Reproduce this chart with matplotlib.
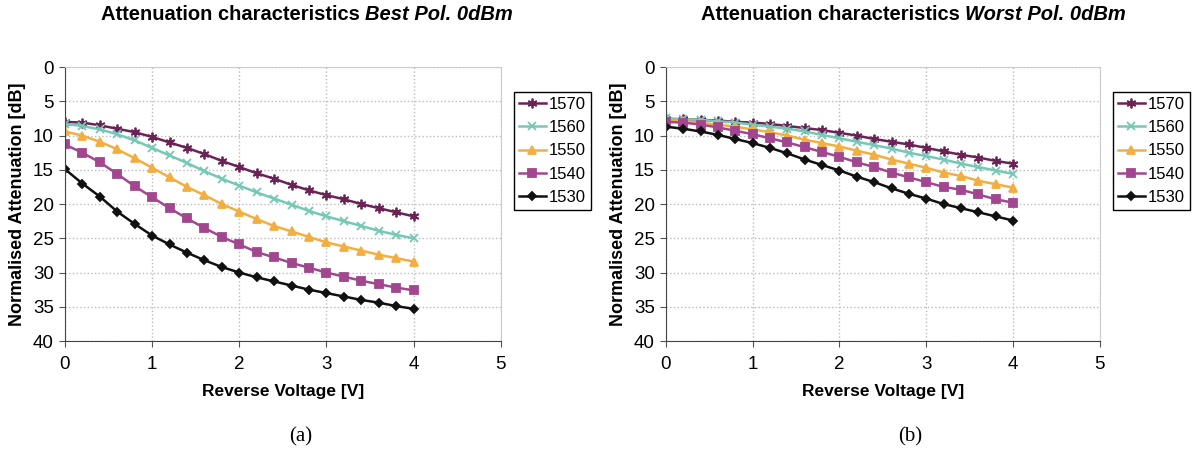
import numpy as np
import matplotlib
matplotlib.use('Agg')
import matplotlib.pyplot as plt

plt.rcParams['font.family'] = ['Liberation Sans', 'DejaVu Sans']

voltage = [0.0, 0.2, 0.4, 0.6, 0.8, 1.0, 1.2, 1.4, 1.6, 1.8, 2.0,
           2.2, 2.4, 2.6, 2.8, 3.0, 3.2, 3.4, 3.6, 3.8, 4.0]
wavelengths = ['1570', '1560', '1550', '1540', '1530']

# (a) best polarisation
best_1570 = [8.0, 8.1, 8.5, 9.0, 9.5, 10.2, 11.0, 11.8, 12.7, 13.7, 14.6,
             15.5, 16.3, 17.2, 18.0, 18.7, 19.3, 20.0, 20.6, 21.2, 21.8]
best_1560 = [8.3, 8.6, 9.1, 9.8, 10.7, 11.8, 12.9, 14.0, 15.2, 16.3, 17.3,
             18.3, 19.2, 20.1, 21.0, 21.8, 22.5, 23.2, 23.9, 24.5, 25.0]
best_1550 = [9.4, 10.0, 10.9, 12.0, 13.3, 14.7, 16.1, 17.5, 18.7, 20.0, 21.1,
             22.2, 23.2, 24.0, 24.8, 25.6, 26.2, 26.8, 27.4, 27.9, 28.4]
best_1540 = [11.3, 12.5, 13.9, 15.6, 17.4, 19.0, 20.6, 22.1, 23.5, 24.8, 25.9,
             27.0, 27.8, 28.6, 29.3, 30.0, 30.6, 31.2, 31.7, 32.2, 32.6]
best_1530 = [14.9, 17.0, 18.9, 21.1, 22.9, 24.6, 25.9, 27.1, 28.2, 29.2, 30.0,
             30.7, 31.3, 31.9, 32.5, 33.0, 33.5, 34.0, 34.4, 34.9, 35.3]

# (b) worst polarisation
worst_1570 = [7.6, 7.6, 7.7, 7.8, 8.0, 8.1, 8.3, 8.6, 8.9, 9.2, 9.6,
              10.0, 10.5, 10.9, 11.3, 11.8, 12.3, 12.8, 13.2, 13.7, 14.1]
worst_1560 = [7.5, 7.6, 7.7, 7.9, 8.1, 8.4, 8.7, 9.0, 9.4, 9.9, 10.4,
              10.9, 11.4, 11.9, 12.5, 13.0, 13.5, 14.1, 14.6, 15.1, 15.6]
worst_1550 = [7.8, 7.9, 8.1, 8.4, 8.7, 9.1, 9.5, 10.0, 10.6, 11.1, 11.6,
              12.2, 12.8, 13.5, 14.1, 14.7, 15.4, 15.9, 16.6, 17.1, 17.6]
worst_1540 = [8.0, 8.1, 8.4, 8.8, 9.3, 9.8, 10.4, 11.0, 11.7, 12.4, 13.1,
              13.9, 14.6, 15.4, 16.1, 16.8, 17.5, 17.9, 18.6, 19.3, 19.8]
worst_1530 = [8.7, 9.0, 9.4, 9.9, 10.5, 11.1, 11.8, 12.6, 13.5, 14.3, 15.1,
              16.0, 16.8, 17.7, 18.5, 19.2, 20.0, 20.6, 21.2, 21.8, 22.4]

colors = ['#6B2356', '#74C8B5', '#F3AE42', '#A2478F', '#111111']
markers = [(6, 2, 0), 'x', '^', 's', 'D']
msizes = [7, 6, 6, 5.5, 4]

fig = plt.figure(figsize=(12.02, 4.55), dpi=100)
ax_a = fig.add_axes([0.054, 0.2505, 0.3627, 0.602])
ax_b = fig.add_axes([0.554, 0.2505, 0.361, 0.602])

panels = [
    (ax_a, [best_1570, best_1560, best_1550, best_1540, best_1530]),
    (ax_b, [worst_1570, worst_1560, worst_1550, worst_1540, worst_1530]),
]

for ax, series in panels:
    for vals, lab, c, m, ms in zip(series, wavelengths, colors, markers, msizes):
        ax.plot(voltage, vals, color=c, marker=m, markersize=ms, linewidth=1.8,
                markeredgewidth=1.3, label=lab)
    ax.set_xlim(0, 5)
    ax.set_ylim(40, 0)
    ax.set_xticks(np.arange(0, 6, 1))
    ax.set_yticks(np.arange(0, 45, 5))
    ax.grid(True, linestyle=':', color='#bbbbbb', linewidth=1)
    ax.tick_params(labelsize=13.5, direction='out', length=4, color='#555555')
    ax.tick_params(axis='x', pad=7)
    ax.tick_params(axis='y', pad=4)
    for side in ['top', 'right']:
        ax.spines[side].set_color('#cccccc')
    for side in ['left', 'bottom']:
        ax.spines[side].set_color('#444444')
    ax.set_xlabel('Reverse Voltage [V]', fontsize=12.5, fontweight='bold', labelpad=8)
    ax.set_ylabel('Normalised Attenuation [dB]', fontsize=13, fontweight='bold', labelpad=5)
    leg = ax.legend(loc='upper left', bbox_to_anchor=(1.03, 0.91), fontsize=12,
                    fancybox=False, edgecolor='black', framealpha=1,
                    handlelength=1.6, handletextpad=0.2, borderpad=0.3,
                    labelspacing=0.5, borderaxespad=0)
    leg.get_frame().set_linewidth(1.0)

# titles: bold part + bold italic part
fig.text(0.304, 0.956, 'Attenuation characteristics ', ha='right', va='baseline',
         fontsize=14.5, fontweight='bold')
fig.text(0.304, 0.956, 'Best Pol. 0dBm', ha='left', va='baseline',
         fontsize=14.5, fontweight='bold', style='italic')
fig.text(0.803, 0.956, 'Attenuation characteristics ', ha='right', va='baseline',
         fontsize=14.5, fontweight='bold')
fig.text(0.803, 0.956, 'Worst Pol. 0dBm', ha='left', va='baseline',
         fontsize=14.5, fontweight='bold', style='italic')

fig.text(0.25, 0.04, '(a)', ha='center', va='center', fontsize=15,
         family=['Liberation Serif', 'DejaVu Serif'])
fig.text(0.757, 0.04, '(b)', ha='center', va='center', fontsize=15,
         family=['Liberation Serif', 'DejaVu Serif'])

fig.savefig('out.png', dpi=100)
